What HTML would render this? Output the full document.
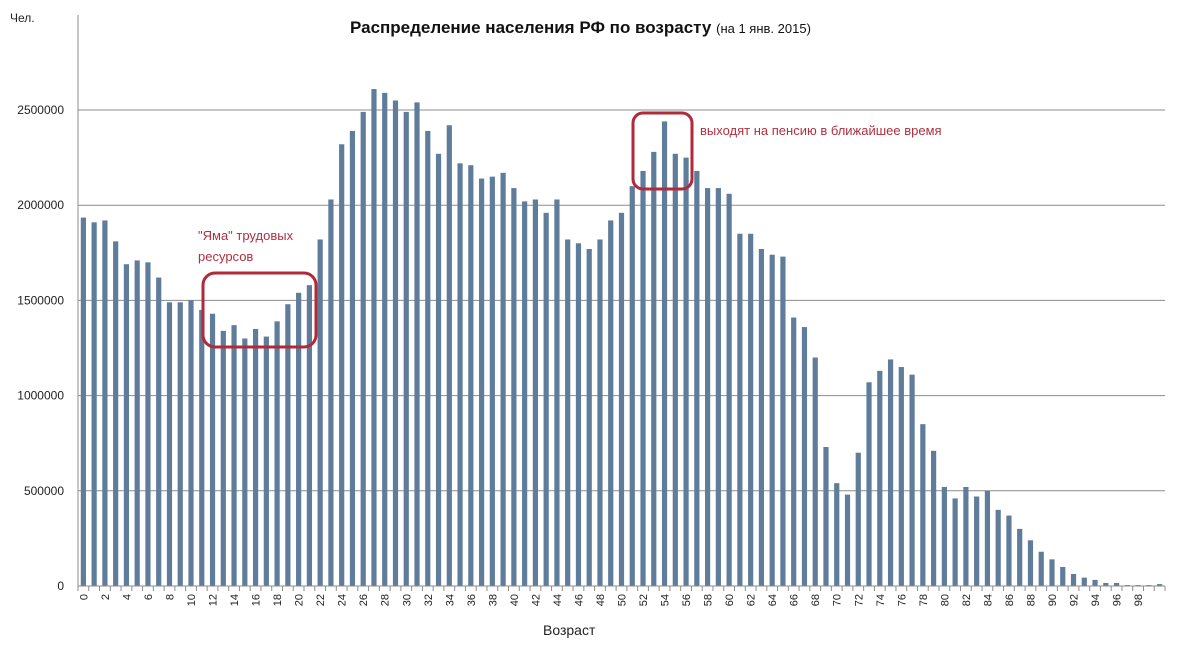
<!DOCTYPE html>
<html><head><meta charset="utf-8"><style>
body{margin:0;background:#fff;}
svg{font-family:"Liberation Sans","DejaVu Sans",sans-serif;}
</style></head><body>
<svg id="c" width="1189" height="641"></svg>
<script>
const ages=[];for(let i=0;i<=100;i++)ages.push(i);
const population=[1935000,1910000,1920000,1810000,1690000,1710000,1700000,1620000,1490000,1490000,1500000,1450000,1430000,1340000,1370000,1300000,1350000,1310000,1390000,1480000,1540000,1580000,1820000,2030000,2320000,2390000,2490000,2610000,2590000,2550000,2490000,2540000,2390000,2270000,2420000,2220000,2210000,2140000,2150000,2170000,2090000,2020000,2030000,1960000,2030000,1820000,1800000,1770000,1820000,1920000,1960000,2100000,2180000,2280000,2440000,2270000,2250000,2180000,2090000,2090000,2060000,1850000,1850000,1770000,1740000,1730000,1410000,1360000,1200000,730000,540000,480000,700000,1070000,1130000,1190000,1150000,1110000,850000,710000,520000,460000,520000,470000,500000,400000,370000,300000,240000,180000,140000,100000,63000,44000,32000,16000,16000,5000,5000,5000,10000];
const yTicks=[0,500000,1000000,1500000,2000000,2500000];
const NS="http://www.w3.org/2000/svg";
const svg=document.getElementById('c');
const X0=78,X1=1165,Y0=586,Y1=110,VMAX=2500000;
const bw=(X1-X0)/ages.length;
const xs=i=>X0+bw*i;
const ys=v=>Y0-(v/VMAX)*(Y0-Y1);
function mk(t,a,txt){const e=document.createElementNS(NS,t);for(const k in a)e.setAttribute(k,a[k]);if(txt!==undefined)e.textContent=txt;svg.appendChild(e);return e;}
yTicks.forEach(v=>{
 const g=mk('line',{x1:X0,x2:X1,y1:ys(v),y2:ys(v),stroke:'#8c8c8c','stroke-width':1});
 
 
 const t=mk('text',{x:64,y:ys(v)+4,'text-anchor':'end','font-size':12,fill:'#222'},String(v));
 
 
});
mk('line',{x1:X0,x2:X0,y1:Y1-95,y2:Y0,stroke:'#8c8c8c'});
population.forEach((v,i)=>{
 const r=mk('rect',{x:xs(i)+bw/2-2.6,y:ys(v),width:5.2,height:Y0-ys(v),fill:'#5f7d9b'});
 
 
});
for(let i=0;i<=ages.length;i++){mk('line',{x1:xs(i),x2:xs(i),y1:Y0,y2:Y0+5,stroke:'#8c8c8c'});}
ages.forEach((a,i)=>{if(a%2===0&&a<100){const cx=xs(i)+bw/2+4;const t=mk('text',{x:cx,y:Y0+8,'font-size':11,fill:'#222','text-anchor':'end',transform:`rotate(-90 ${cx} ${Y0+8})`},String(a));
 
 }});
</script>
<svg width="1189" height="641" style="position:absolute;left:0;top:0">
<line x1="78" x2="1165" y1="586" y2="586" stroke="#8c8c8c"/>
<text x="10" y="22" font-size="12" fill="#222">Чел.</text>
<text x="350" y="33" font-size="17" font-weight="bold" fill="#111">Распределение населения РФ по возрасту <tspan font-size="13" font-weight="normal">(на 1 янв. 2015)</tspan></text>
<text x="543" y="635" font-size="14" fill="#222">Возраст</text>
<rect x="203" y="273" width="113" height="74" rx="12" fill="none" stroke="#b02a3a" stroke-width="3"/>
<text x="198" y="240" font-size="13" fill="#b03040">"Яма" трудовых</text>
<text x="198" y="261" font-size="13" fill="#b03040">ресурсов</text>
<rect x="633" y="113" width="59" height="76" rx="10" fill="none" stroke="#b02a3a" stroke-width="3"/>
<text x="700" y="135" font-size="13" fill="#b03040">выходят на пенсию в ближайшее время</text>
</svg>
</body></html>
